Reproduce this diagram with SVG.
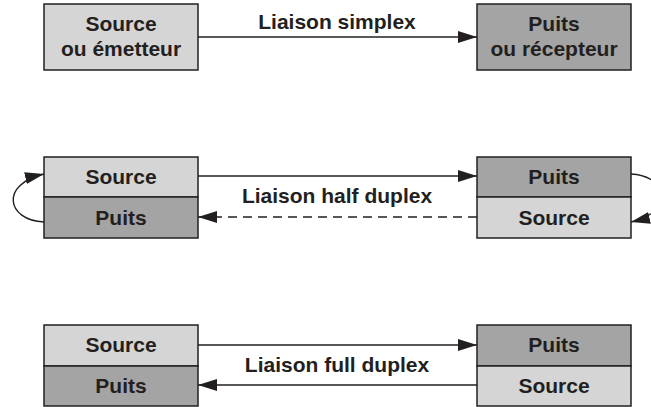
<svg xmlns="http://www.w3.org/2000/svg" width="651" height="407" viewBox="0 0 651 407">
<style>
  .light { fill: #d5d5d5; stroke: #231f20; stroke-width: 1.5; }
  .dark { fill: #a4a4a4; stroke: #231f20; stroke-width: 1.5; }
  text { font-family: "Liberation Sans", Arial, sans-serif; font-weight: bold; font-size: 21px; fill: #231f20; text-anchor: middle; }
  .line { fill: none; stroke: #231f20; stroke-width: 1.4; }
  .dash { stroke-dasharray: 9 6; }
</style>
<defs>
  <marker id="arr" markerUnits="userSpaceOnUse" markerWidth="20" markerHeight="13" refX="19" refY="6" orient="auto">
    <path d="M0,0 L19,6 L0,12 Z" fill="#231f20"/>
  </marker>
</defs>

<g id="simplex-source">
  <rect class="light" x="44" y="4" width="154" height="66"/>
  <text x="121" y="31">Source</text>
  <text x="121" y="56">ou émetteur</text>
</g>
<g id="simplex-sink">
  <rect class="dark" x="477" y="4" width="154" height="66"/>
  <text x="554" y="31">Puits</text>
  <text x="554" y="56">ou récepteur</text>
</g>

<g id="half-left">
  <rect class="light" x="44" y="157" width="154" height="40"/>
  <rect class="dark" x="44" y="197" width="154" height="41"/>
  <text x="121" y="184">Source</text>
  <text x="121" y="225">Puits</text>
</g>
<g id="half-right">
  <rect class="dark" x="477" y="157" width="154" height="40"/>
  <rect class="light" x="477" y="197" width="154" height="41"/>
  <text x="554" y="184">Puits</text>
  <text x="554" y="225">Source</text>
</g>

<g id="full-left">
  <rect class="light" x="44" y="325" width="154" height="41"/>
  <rect class="dark" x="44" y="366" width="154" height="40"/>
  <text x="121" y="352">Source</text>
  <text x="121" y="393">Puits</text>
</g>
<g id="full-right">
  <rect class="dark" x="477" y="325" width="154" height="41"/>
  <rect class="light" x="477" y="366" width="154" height="40"/>
  <text x="554" y="352">Puits</text>
  <text x="554" y="393">Source</text>
</g>

<g id="connectors">
  <line class="line" x1="198" y1="37" x2="477" y2="37" marker-end="url(#arr)"/>
  <line class="line" x1="198" y1="176" x2="477" y2="176" marker-end="url(#arr)"/>
  <line class="line dash" x1="477" y1="217" x2="198" y2="217" marker-end="url(#arr)"/>
  <path class="line" d="M44,222 C6,220 0,184 44,174" marker-end="url(#arr)"/>
  <path class="line" d="M631,174 C669,176 675,212 631,222" marker-end="url(#arr)"/>
  <line class="line" x1="198" y1="345" x2="477" y2="345" marker-end="url(#arr)"/>
  <line class="line" x1="477" y1="385" x2="198" y2="385" marker-end="url(#arr)"/>
</g>

<g id="labels">
  <text x="337" y="29">Liaison simplex</text>
  <text x="337" y="203">Liaison half duplex</text>
  <text x="337" y="372">Liaison full duplex</text>
</g>
</svg>
